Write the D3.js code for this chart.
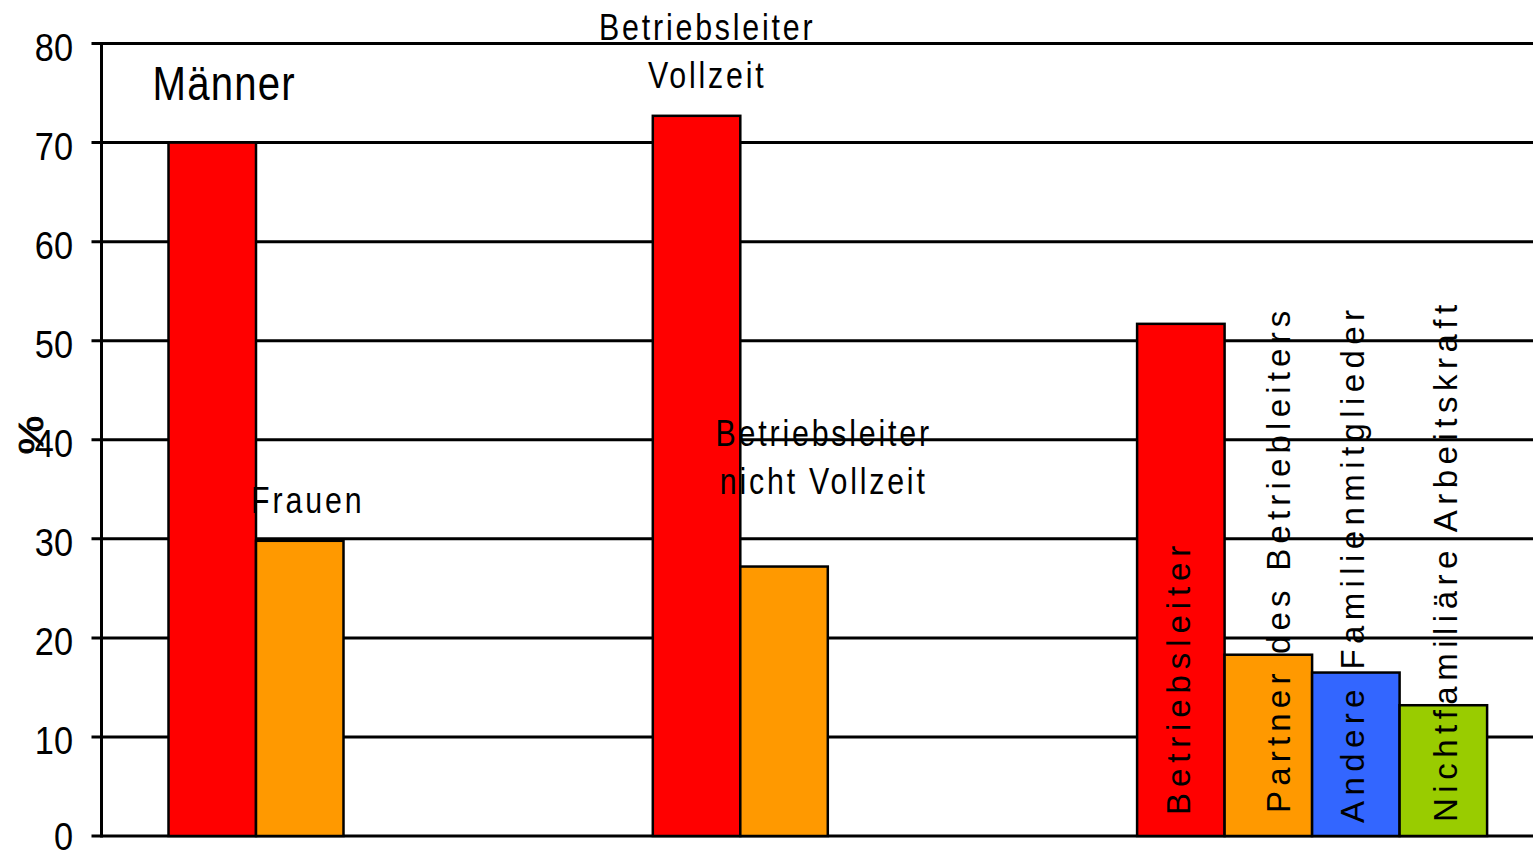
<!DOCTYPE html>
<html>
<head>
<meta charset="utf-8">
<script src="https://cdn.jsdelivr.net/npm/d3@7"></script>
<style>
  html, body { margin: 0; padding: 0; background: #fff; }
  svg { display: block; }
</style>
</head>
<body>
<svg id="chart" width="1533" height="859"></svg>
<script>
// ---- data ----
const groupNames = ["Geschlecht", "Arbeitszeit", "Stellung im Betrieb"];
const barNames = ["Männer", "Frauen",
  "Betriebsleiter Vollzeit", "Betriebsleiter nicht Vollzeit",
  "Betriebsleiter", "Partner des Betriebleiters", "Andere Familienmitglieder", "Nichtfamiliäre Arbeitskraft"];
const barGroups = ["Geschlecht", "Geschlecht", "Arbeitszeit", "Arbeitszeit",
  "Stellung im Betrieb", "Stellung im Betrieb", "Stellung im Betrieb", "Stellung im Betrieb"];
const barValues = [70, 29.8, 72.7, 27.2, 51.7, 18.3, 16.5, 13.2];
const yTicks = [0, 10, 20, 30, 40, 50, 60, 70, 80];
const yTitle = "%";

// ---- layout ----
const W = 1533, H = 859;
const x0 = 101.5, yBottom = 836, yTop = 43.5;
const palette = ["#FF0000", "#FF9900", "#FF0000", "#FF9900", "#FF0000", "#FF9900", "#3366FF", "#99CC00"];
const sans = "'Liberation Sans', Arial, sans-serif";
const SX = 0.82; // horizontal compression to mimic a narrow face

const svg = d3.select("#chart");

const y = d3.scaleLinear().domain([0, 80]).range([yBottom, yTop]);
const xGroup = d3.scaleBand().domain(groupNames).range([x0, x0 + 3 * 484.3]).padding(0);
const xSlot = d3.scaleBand().domain([0, 1, 2, 3]).range([0, 350]).padding(0);
const groupOffset = 67;

const slotIdx = barNames.map((d, i) => barGroups.slice(0, i).filter(g => g === barGroups[i]).length);
const bars = barNames.map((name, i) => ({
  name, group: barGroups[i], value: barValues[i], slot: slotIdx[i], color: palette[i]
}));
const bx = d => xGroup(d.group) + groupOffset + xSlot(d.slot);

// gridlines
svg.append("g")
  .selectAll("line")
  .data(yTicks)
  .join("line")
  .attr("x1", x0 - 10).attr("x2", W)
  .attr("y1", d => y(d)).attr("y2", d => y(d))
  .attr("stroke", "#000").attr("stroke-width", 3);

// bars
svg.append("g")
  .selectAll("rect")
  .data(bars)
  .join("rect")
  .attr("x", bx)
  .attr("y", d => y(d.value))
  .attr("width", xSlot.bandwidth())
  .attr("height", d => y(0) - y(d.value))
  .attr("fill", d => d.color)
  .attr("stroke", "#000")
  .attr("stroke-width", 2.5);

// axis line
svg.append("line")
  .attr("x1", x0).attr("x2", x0)
  .attr("y1", y(80) - 1.5).attr("y2", y(0) + 1.5)
  .attr("stroke", "#000").attr("stroke-width", 3);

// tick labels
const tickSize = 39;
svg.append("g")
  .selectAll("text")
  .data(yTicks)
  .join("text")
  .attr("transform", d => `translate(73,${Math.min(y(d) + 17.5, H - 0.22 * tickSize)}) scale(0.88,1)`)
  .attr("text-anchor", "end")
  .attr("font-family", sans)
  .attr("font-size", tickSize)
  .attr("fill", "#000")
  .text(d => d);

// y title
svg.append("text")
  .attr("transform", `translate(43,${435}) rotate(-90) scale(1.25,1)`)
  .attr("text-anchor", "middle")
  .attr("font-family", sans)
  .attr("font-size", 35)
  .attr("stroke", "#000").attr("stroke-width", 0.8)
  .attr("fill", "#000")
  .text(yTitle);

// horizontal annotation labels (narrowed)
const lab = svg.append("g").attr("font-family", sans).attr("fill", "#000");
function hText(str, x, yb, size, spacing, anchor) {
  lab.append("text")
    .attr("transform", `translate(${x},${yb}) scale(${SX},1)`)
    .attr("font-size", size)
    .attr("letter-spacing", spacing / SX)
    .attr("text-anchor", anchor)
    .text(str);
}
hText(bars[0].name, bx(bars[0]) - 16, 100, 49, 1.2, "start");
hText(bars[1].name, bx(bars[1]) - 5, 513, 37, 2.9, "start");

function twoLine(b, cx, yBase) {
  const parts = b.name.split(" ");
  hText(parts[0], cx + 1.4, yBase, 37, 2.8, "middle");
  hText(parts.slice(1).join(" "), cx + 1.4, yBase + 48, 37, 2.8, "middle");
}
twoLine(bars[2], bx(bars[2]) + 53, 40);
twoLine(bars[3], bx(bars[3]) + 82, 446);

// vertical labels in group 3
const vOffsets = [9, 22, 8, 14];
const vStarts = [815, 813, 823, 822];
const vSpacing = [5.9, 5.2, 5.4, 5.5];
const vBars = bars.filter(d => d.group === groupNames[2]);
svg.append("g")
  .selectAll("text")
  .data(vBars)
  .join("text")
  .attr("transform", (d, i) => `translate(${bx(d) + xSlot.bandwidth() / 2 + vOffsets[i]},${vStarts[i]}) rotate(-90)`)
  .attr("font-family", sans)
  .attr("font-size", 33)
  .attr("letter-spacing", (d, i) => vSpacing[i])
  .attr("fill", "#000")
  .text(d => d.name);
</script>
</body>
</html>
